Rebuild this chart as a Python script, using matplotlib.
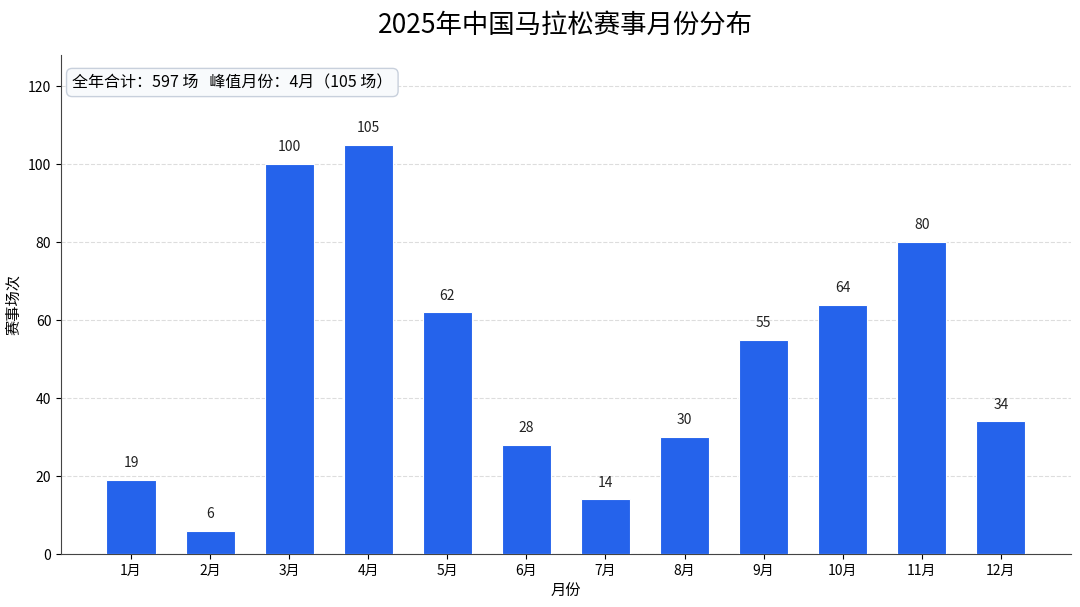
import matplotlib
matplotlib.use('Agg')
import matplotlib.pyplot as plt

plt.rcParams['font.family'] = ['Noto Sans CJK SC', 'DejaVu Sans']

# 数据
months = ['1月', '2月', '3月', '4月', '5月', '6月', '7月', '8月', '9月', '10月', '11月', '12月']
counts = [19, 6, 100, 105, 62, 28, 14, 30, 55, 64, 80, 34]

total = sum(counts)
peak_idx = counts.index(max(counts))

fig = plt.figure(figsize=(10.8, 6.07), dpi=100)
ax = fig.add_axes([0.0565, 0.0873, 0.935, 0.822])

x = range(len(months))
bars = ax.bar(x, counts, width=0.62, color='#2563EB', edgecolor='white', linewidth=0.8, zorder=3)

for xi, v in zip(x, counts):
    ax.text(xi, v + 2.5, str(v), ha='center', va='bottom', fontsize=10, color='#222222')

ax.set_xticks(list(x))
ax.set_xticklabels(months, fontsize=10)
ax.tick_params(axis='y', labelsize=10)
ax.set_xlim(-0.885, len(months) - 1 + 0.885)
ax.set_ylim(0, 128)
ax.set_yticks([0, 20, 40, 60, 80, 100, 120])

ax.grid(axis='y', linestyle='--', color='#dddddd', linewidth=0.8, zorder=0)
ax.spines['top'].set_visible(False)
ax.spines['right'].set_visible(False)
ax.spines['left'].set_color('#444444')
ax.spines['bottom'].set_color('#444444')

ax.set_xlabel('月份', fontsize=11, labelpad=4)
ax.set_ylabel('赛事场次', fontsize=11, fontweight='medium')
ax.set_title('2025年中国马拉松赛事月份分布', fontsize=19, pad=16)

ax.text(0.011, 0.945, f'全年合计：{total} 场   峰值月份：{months[peak_idx]}（{counts[peak_idx]} 场）',
        transform=ax.transAxes, fontsize=11.5, ha='left', va='center',
        bbox=dict(boxstyle='round,pad=0.35', facecolor='#f8fafc', edgecolor='#c8d0dc'))

fig.savefig('out.png', dpi=100)
